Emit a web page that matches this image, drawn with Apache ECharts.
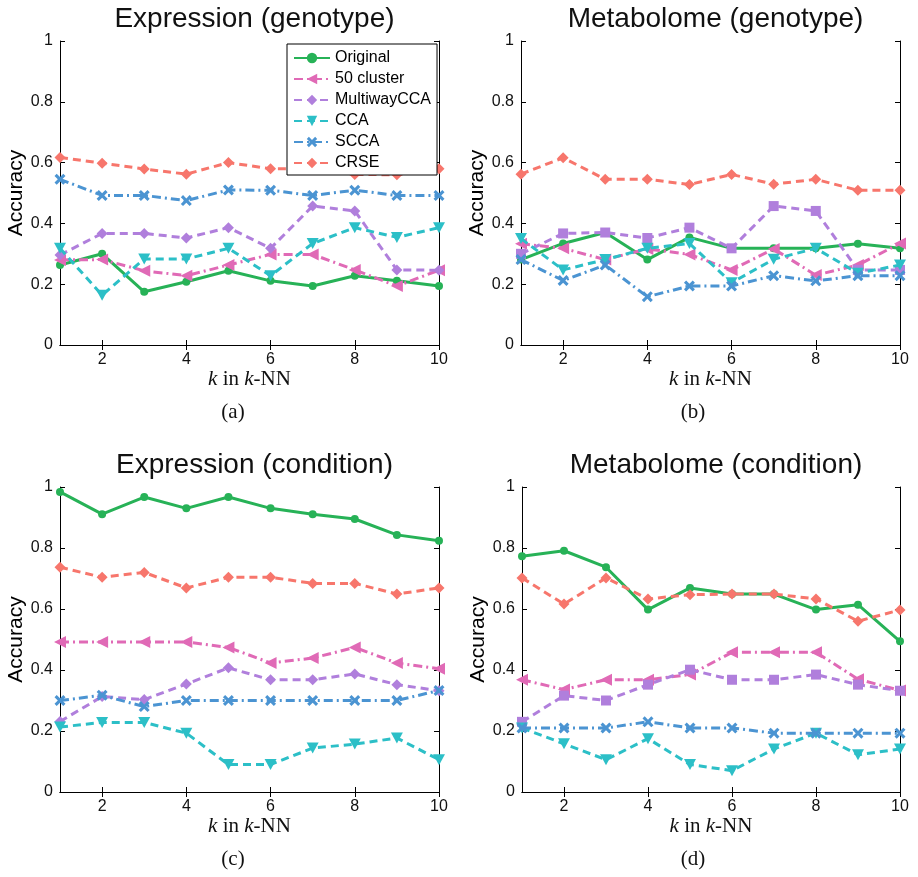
<!DOCTYPE html>
<html>
<head>
<meta charset="utf-8">
<script src="https://cdn.jsdelivr.net/npm/echarts@6/dist/echarts.min.js"></script>
<style>
  html, body { margin: 0; padding: 0; background: #fff; }
  #chart { width: 918px; height: 877px; }
</style>
</head>
<body>
<div id="chart"></div>
<script>
// k values of the k-NN classifier (x axis)
const kValues = [1, 2, 3, 4, 5, 6, 7, 8, 9, 10];
const xTicks = [2, 4, 6, 8, 10];
const methodNames = ['Original', '50 cluster', 'MultiwayCCA', 'CCA', 'SCCA', 'CRSE'];
const panelTitles = ['Expression (genotype)', 'Metabolome (genotype)', 'Expression (condition)', 'Metabolome (condition)'];
const panelTags = ['(a)', '(b)', '(c)', '(d)'];

// Accuracy per method, rows follow methodNames order
const exprGenotype = [
  [0.263, 0.300, 0.175, 0.208, 0.244, 0.211, 0.194, 0.228, 0.211, 0.194],
  [0.280, 0.281, 0.244, 0.228, 0.263, 0.298, 0.298, 0.247, 0.194, 0.246],
  [0.296, 0.367, 0.367, 0.352, 0.386, 0.318, 0.457, 0.441, 0.247, 0.246],
  [0.318, 0.164, 0.283, 0.283, 0.318, 0.228, 0.334, 0.386, 0.354, 0.386],
  [0.545, 0.492, 0.492, 0.475, 0.510, 0.509, 0.492, 0.509, 0.492, 0.492],
  [0.617, 0.598, 0.579, 0.562, 0.600, 0.580, 0.580, 0.561, 0.560, 0.580]
];
const metabGenotype = [
  [0.281, 0.334, 0.370, 0.281, 0.354, 0.318, 0.318, 0.318, 0.333, 0.318],
  [0.333, 0.318, 0.281, 0.316, 0.298, 0.247, 0.316, 0.230, 0.263, 0.334],
  [0.300, 0.367, 0.370, 0.352, 0.386, 0.318, 0.457, 0.441, 0.247, 0.247],
  [0.350, 0.247, 0.281, 0.318, 0.334, 0.205, 0.282, 0.318, 0.236, 0.263],
  [0.281, 0.212, 0.263, 0.159, 0.194, 0.194, 0.228, 0.211, 0.228, 0.228],
  [0.562, 0.616, 0.545, 0.545, 0.528, 0.561, 0.529, 0.545, 0.509, 0.509]
];
const exprCondition = [
  [0.984, 0.911, 0.967, 0.930, 0.967, 0.930, 0.911, 0.895, 0.843, 0.824],
  [0.492, 0.492, 0.492, 0.492, 0.474, 0.423, 0.439, 0.474, 0.423, 0.404],
  [0.231, 0.313, 0.303, 0.354, 0.407, 0.368, 0.368, 0.387, 0.352, 0.332],
  [0.213, 0.228, 0.228, 0.193, 0.090, 0.090, 0.144, 0.157, 0.177, 0.106],
  [0.300, 0.317, 0.280, 0.300, 0.300, 0.300, 0.300, 0.300, 0.300, 0.333],
  [0.737, 0.704, 0.720, 0.669, 0.704, 0.704, 0.684, 0.684, 0.649, 0.669]
];
const metabCondition = [
  [0.773, 0.791, 0.737, 0.598, 0.669, 0.649, 0.649, 0.598, 0.614, 0.494],
  [0.368, 0.336, 0.368, 0.368, 0.385, 0.458, 0.458, 0.458, 0.370, 0.333],
  [0.230, 0.316, 0.300, 0.352, 0.401, 0.368, 0.368, 0.385, 0.352, 0.332],
  [0.210, 0.158, 0.106, 0.175, 0.090, 0.070, 0.141, 0.193, 0.122, 0.141],
  [0.210, 0.210, 0.210, 0.230, 0.210, 0.210, 0.193, 0.193, 0.193, 0.193],
  [0.702, 0.616, 0.702, 0.633, 0.647, 0.649, 0.649, 0.633, 0.560, 0.597]
];
const panelData = [exprGenotype, metabGenotype, exprCondition, metabCondition];

// Styling
const SANS = 'Liberation Sans, Arial, sans-serif';
const SERIF = 'Liberation Serif, Times New Roman, serif';
const colors = ['#27b257', '#e06ab6', '#b07fdc', '#2cbfc7', '#4b94d2', '#f7766c'];
const DASH = [8, 5];
const DASHDOT = [9, 4, 2, 4];
const lineTypes = ['solid', DASHDOT, DASH, DASH, DASHDOT, DASH];
const SYM_LEFT = 'path://M10,0L0,5L10,10Z';
const SYM_DOWN = 'path://M0,0L10,0L5,9Z';
const SYM_DIAMOND = 'path://M5,0L10,5L5,10L0,5Z';
const SYM_CROSS = 'path://M0,2L2,0L5,3L8,0L10,2L7,5L10,8L8,10L5,7L2,10L0,8L3,5Z';
// MultiwayCCA uses diamonds on expression panels and squares on metabolome panels
const symbolsFor = p => ['circle', SYM_LEFT, (p % 2 === 0 ? SYM_DIAMOND : 'rect'), SYM_DOWN, SYM_CROSS, SYM_DIAMOND];
const symbolSizesFor = p => [8, 12, (p % 2 === 0 ? 11 : 10), [12, 11], 11, 11];

const grids = [
  { left: 60, top: 41, width: 379, height: 304 },
  { left: 521, top: 41, width: 379, height: 304 },
  { left: 60, top: 487, width: 379, height: 305 },
  { left: 522, top: 487, width: 378, height: 305 }
];
// horizontal centre of each sub-caption
const tagCenters = [228, 688, 228, 688];

const xAxes = [], yAxes = [], series = [], titles = [];
grids.forEach((g, p) => {
  xAxes.push({
    type: 'value', gridIndex: p, min: 1, max: 10, position: 'bottom',
    axisLine: { lineStyle: { color: '#000', width: 1 } },
    axisTick: { inside: true, length: 5, customValues: xTicks, lineStyle: { color: '#000' } },
    axisLabel: { customValues: xTicks, color: '#111', fontFamily: SANS, fontSize: 16, margin: 7 },
    splitLine: { show: false },
    name: '{i|k} in {i|k}-NN', nameLocation: 'middle', nameGap: 21,
    nameTextStyle: {
      color: '#111', fontFamily: SERIF, fontSize: 21,
      rich: { i: { fontStyle: 'italic', fontFamily: SERIF, fontSize: 21, color: '#111' } }
    }
  });
  xAxes.push({
    type: 'value', gridIndex: p, min: 1, max: 10, position: 'top',
    axisLine: { lineStyle: { color: '#000', width: 1 } },
    axisTick: { inside: true, length: 5, customValues: xTicks, lineStyle: { color: '#000' } },
    axisLabel: { show: false }, splitLine: { show: false }
  });
  yAxes.push({
    type: 'value', gridIndex: p, min: 0, max: 1, interval: 0.2, position: 'left',
    axisLine: { show: true, lineStyle: { color: '#000', width: 1 } },
    axisTick: { show: true, inside: true, length: 5, lineStyle: { color: '#000' } },
    axisLabel: { color: '#111', fontFamily: SANS, fontSize: 16, margin: 7 },
    splitLine: { show: false },
    name: 'Accuracy', nameLocation: 'middle', nameGap: 28,
    nameTextStyle: { color: '#000', fontFamily: SANS, fontSize: 21 }
  });
  yAxes.push({
    type: 'value', gridIndex: p, min: 0, max: 1, interval: 0.2, position: 'right',
    axisLine: { show: true, lineStyle: { color: '#000', width: 1 } },
    axisTick: { show: true, inside: true, length: 5, lineStyle: { color: '#000' } },
    axisLabel: { show: false }, splitLine: { show: false }
  });

  titles.push({
    text: panelTitles[p], left: g.left + g.width / 2, top: g.top - 41, textAlign: 'center',
    textStyle: { fontFamily: SANS, fontSize: 28, fontWeight: 'normal', color: '#111' }
  });
  titles.push({
    text: panelTags[p], left: tagCenters[p], top: g.top + g.height + 52, textAlign: 'center',
    textStyle: { fontFamily: SERIF, fontSize: 21, fontWeight: 'normal', color: '#111' }
  });

  const syms = symbolsFor(p), sizes = symbolSizesFor(p);
  methodNames.forEach((name, m) => {
    series.push({
      name: name, type: 'line', xAxisIndex: 2 * p, yAxisIndex: 2 * p,
      data: kValues.map((k, i) => [k, panelData[p][m][i]]),
      symbol: syms[m], symbolSize: sizes[m], showSymbol: true,
      lineStyle: { color: colors[m], width: 3, type: lineTypes[m] },
      itemStyle: { color: colors[m], borderWidth: 0 },
      z: 2 + m * 0.01,
      emphasis: { disabled: true }
    });
  });
});

const chart = echarts.init(document.getElementById('chart'), null, { renderer: 'canvas' });
chart.setOption({
  animation: false,
  backgroundColor: '#fff',
  title: titles,
  grid: grids,
  xAxis: xAxes,
  yAxis: yAxes,
  legend: {
    left: 287, top: 44, orient: 'vertical',
    backgroundColor: '#fff', borderColor: '#000', borderWidth: 1, borderRadius: 0,
    padding: [6, 6, 4, 6], itemGap: 5, itemWidth: 36, itemHeight: 13,
    textStyle: { fontFamily: SANS, fontSize: 16, color: '#000' },
    data: methodNames,
    z: 10
  },
  series: series
});
</script>
</body>
</html>
